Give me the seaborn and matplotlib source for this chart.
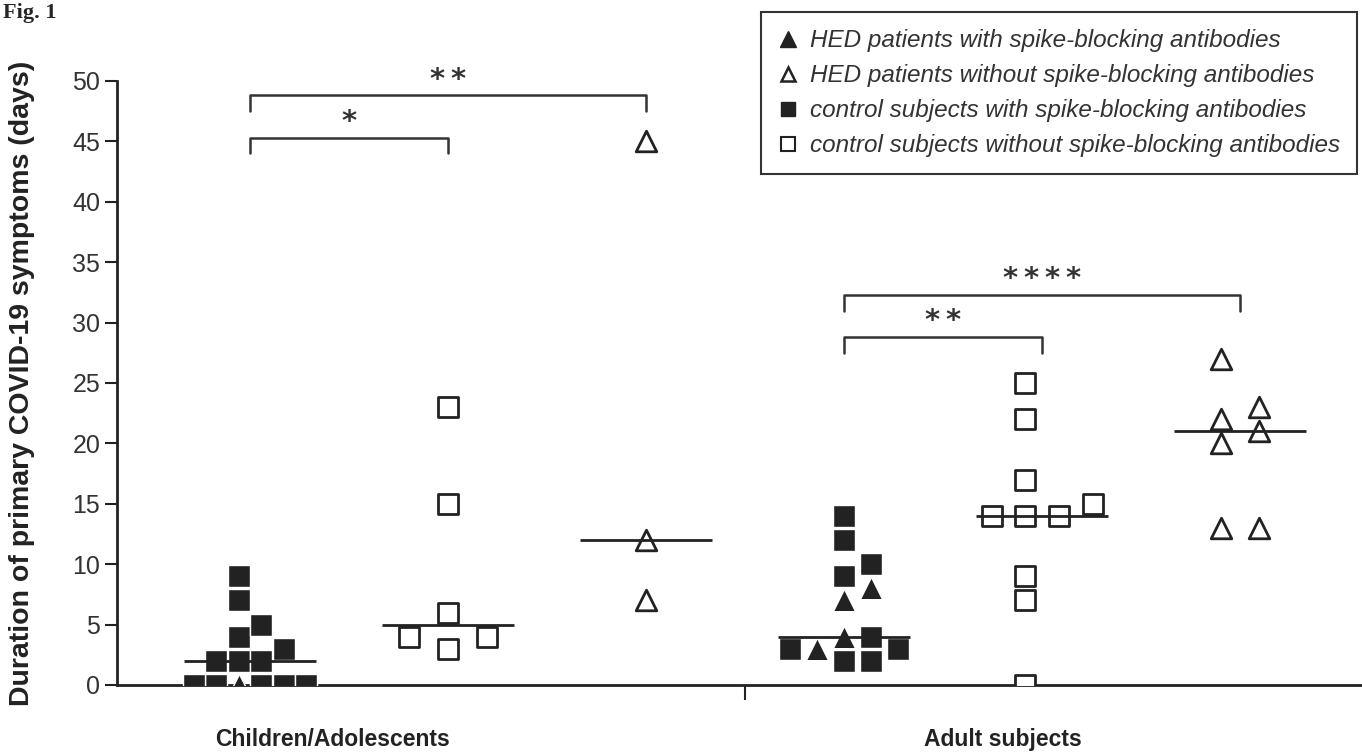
import numpy as np
import pandas as pd
import matplotlib.pyplot as plt
import seaborn as sns
from matplotlib.lines import Line2D

# DATA - duration of primary COVID-19 symptoms (days)
group_labels = ["Children/Adolescents", "Adult subjects"]

# children / adolescents
child_hed_ab = [0]
child_ctrl_ab = [0, 0, 0, 0, 0, 2, 2, 2, 3, 4, 5, 7, 9]
child_ctrl_noab = [3, 4, 4, 6, 15, 23]
child_hed_noab = [7, 12, 45]

# adult subjects
adult_hed_ab = [3, 4, 7, 8]
adult_ctrl_ab = [2, 2, 3, 3, 4, 9, 10, 12, 14]
adult_ctrl_noab = [0, 7, 9, 14, 14, 14, 15, 17, 22, 25]
adult_hed_noab = [13, 13, 20, 21, 22, 23, 27]

# significance brackets: (from column, to column, bracket height, stars)
brackets = [
    (0, 1, 45.3, "*"),
    (0, 2, 48.8, "**"),
    (3, 4, 28.8, "**"),
    (3, 5, 32.3, "****"),
]

legend_labels = [
    "HED patients with spike-blocking antibodies",
    "HED patients without spike-blocking antibodies",
    "control subjects with spike-blocking antibodies",
    "control subjects without spike-blocking antibodies",
]

# six dot columns, each a list of (kind, values)
columns = [
    [("hed_ab", child_hed_ab), ("ctrl_ab", child_ctrl_ab)],
    [("ctrl_noab", child_ctrl_noab)],
    [("hed_noab", child_hed_noab)],
    [("hed_ab", adult_hed_ab), ("ctrl_ab", adult_ctrl_ab)],
    [("ctrl_noab", adult_ctrl_noab)],
    [("hed_noab", adult_hed_noab)],
]


# GraphPad-like dot layout: stack points side by side when they would overlap
def dot_slots(values, tol=1.8):
    order = np.argsort(values, kind="stable")
    slots = np.zeros(len(values))
    placed = []
    for i in order:
        v = values[i]
        for cand in [0, 1, -1, 2, -2, 3, -3, 4, -4]:
            if all(not (s == cand and abs(v - pv) < tol) for s, pv in placed):
                break
        placed.append((cand, v))
        slots[i] = cand
    return slots - (slots.max() + slots.min()) / 2


rows = []
medians = []
for col, parts in enumerate(columns):
    kinds = [k for k, vals in parts for _ in vals]
    values = np.array([v for k, vals in parts for v in vals], dtype=float)
    slots = dot_slots(values)
    n_slots = slots.max() - slots.min() + 1
    step = min(0.195, 0.68 / n_slots)
    for k, v, s in zip(kinds, values, slots):
        rows.append({"col": col, "kind": k, "days": v, "x": col + s * step})
    medians.append(np.median(values))

df = pd.DataFrame(rows)

# STYLE
sns.set_style("ticks")
plt.rcParams["font.family"] = ["Liberation Sans", "DejaVu Sans"]
ink = "#222222"

fig = plt.figure(figsize=(13.62, 7.53), dpi=100)
ax = fig.add_axes([117 / 1362, 1 - 685 / 753, 1 - 117 / 1362, (685 - 81) / 753])

styles = {
    "ctrl_ab": dict(marker="s", color=ink, edgecolor="white", linewidth=1.0, s=250),
    "hed_ab": dict(marker="^", color=ink, edgecolor="white", linewidth=1.0, s=260),
    "ctrl_noab": dict(marker="s", color="white", edgecolor=ink, linewidth=2.0, s=210),
    "hed_noab": dict(marker="^", color="white", edgecolor=ink, linewidth=2.0, s=220),
}
for kind in ["ctrl_noab", "hed_noab", "ctrl_ab", "hed_ab"]:
    sub = df[df["kind"] == kind]
    sns.scatterplot(data=sub, x="x", y="days", ax=ax, zorder=3, legend=False, **styles[kind])

# median lines
cols = np.arange(len(columns))
ax.hlines(medians, cols - 0.335, cols + 0.335, color=ink, linewidth=2, zorder=5)

# significance brackets
for a, b, h, stars in brackets:
    ax.plot([a, a, b, b], [h - 1.3, h, h, h - 1.3], color="#333333", linewidth=1.8,
            clip_on=False, zorder=4)
    ax.text((a + b) / 2, h + 1.3, "\u2009".join(stars), ha="center", va="center",
            fontsize=21, fontweight="bold", color="#333333", family="DejaVu Sans")

ax.set_xlim(-0.672, 5.616)
ax.set_ylim(0, 50)
ax.set_yticks(np.arange(0, 51, 5))
ax.tick_params(axis="y", labelsize=18, labelcolor="#333333", length=9, width=1.5,
               color=ink, pad=3)

# group separator tick and group labels
ax.set_xticks([2.5])
ax.set_xticklabels([""])
ax.tick_params(axis="x", which="major", length=11, width=1.5, color=ink)
ax.set_xticks([0.414, 3.8], minor=True)
ax.set_xticklabels(group_labels, minor=True, fontsize=16.5, fontweight="bold", color=ink)
ax.tick_params(axis="x", which="minor", length=0, pad=31)

ax.set_xlabel("")
ax.set_ylabel("Duration of primary COVID-19 symptoms (days)", fontsize=20.5,
              fontweight="bold", color=ink, va="center")
ax.yaxis.set_label_coords(-0.0763, 0.5)

sns.despine(ax=ax)
for side in ["left", "bottom"]:
    ax.spines[side].set_linewidth(2)
    ax.spines[side].set_color(ink)

# legend
handles = [
    Line2D([], [], linestyle="none", marker="^", markersize=11, markerfacecolor=ink, markeredgecolor=ink),
    Line2D([], [], linestyle="none", marker="^", markersize=10, markerfacecolor="white", markeredgecolor=ink, markeredgewidth=1.8),
    Line2D([], [], linestyle="none", marker="s", markersize=10, markerfacecolor=ink, markeredgecolor=ink),
    Line2D([], [], linestyle="none", marker="s", markersize=9.5, markerfacecolor="white", markeredgecolor=ink, markeredgewidth=1.5),
]
leg = ax.legend(handles, legend_labels, loc="upper right",
                bbox_to_anchor=(1357 / 1362, 1 - 12 / 753), bbox_transform=fig.transFigure,
                borderaxespad=0, frameon=True, fancybox=False, framealpha=1,
                edgecolor="#333333", prop={"style": "italic", "size": 17.5},
                labelcolor="#333333", handlelength=0.8, handletextpad=0.5,
                borderpad=0.7, labelspacing=0.5)
leg.get_frame().set_linewidth(1.5)

fig.text(0.002, 1 - 18 / 753, "Fig. 1", family="Liberation Serif", fontweight="bold",
         fontsize=16, va="baseline", ha="left")

fig.savefig("out.png", dpi=100)
